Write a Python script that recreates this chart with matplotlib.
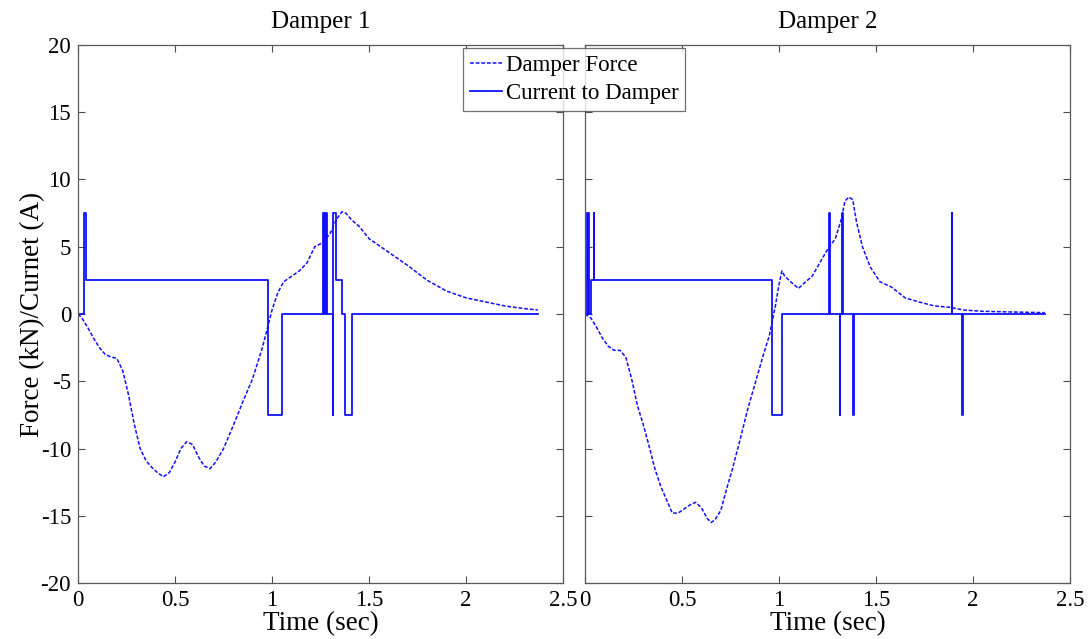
import matplotlib
matplotlib.use("Agg")
import matplotlib.pyplot as plt
from matplotlib.lines import Line2D

plt.rcParams['font.family'] = ['Liberation Serif', 'DejaVu Serif']
plt.rcParams['axes.unicode_minus'] = False

# Damper 1 force (kN)
t_force1 = [0, 0.02, 0.05, 0.08, 0.11, 0.14, 0.17, 0.2, 0.23, 0.26,
            0.29, 0.32, 0.35, 0.38, 0.41, 0.44, 0.47, 0.5, 0.53, 0.56,
            0.59, 0.62, 0.65, 0.68, 0.71, 0.75, 0.8, 0.85, 0.9, 0.95,
            1.0, 1.03, 1.06, 1.1, 1.14, 1.18, 1.22, 1.26, 1.3, 1.33,
            1.36, 1.38, 1.41, 1.45, 1.5, 1.55, 1.6, 1.7, 1.8, 1.9,
            2.0, 2.1, 2.2, 2.3, 2.37]
force1 = [0, -0.3, -1.0, -1.8, -2.5, -3.0, -3.2, -3.3, -4.2, -6.0,
          -8.2, -10.0, -10.9, -11.4, -11.8, -12.1, -11.8, -11.0, -10.0, -9.5,
          -9.7, -10.6, -11.3, -11.5, -11.0, -10.0, -8.3, -6.5, -4.8, -2.5,
          0.3, 1.6, 2.4, 2.8, 3.2, 3.8, 5.0, 5.3, 6.0, 7.0,
          7.6, 7.5, 7.0, 6.5, 5.6, 5.1, 4.6, 3.6, 2.5, 1.7,
          1.2, 0.9, 0.6, 0.4, 0.3]

# Damper 1 current (A), step changes
t_cur1 = [0, 0.03, 0.04, 0.98, 1.05, 1.263, 1.267, 1.270, 1.274, 1.277,
          1.281, 1.284, 1.312, 1.316, 1.330, 1.36, 1.375, 1.41, 2.37]
cur1 = [0, 7.5, 2.5, -7.5, 0, 7.5, 0, 7.5, 0, 7.5,
        0, 0, -7.5, 7.5, 2.5, 0, -7.5, 0, 0]

# Damper 2 force (kN)
t_force2 = [0, 0.03, 0.06, 0.09, 0.12, 0.15, 0.18, 0.21, 0.24, 0.27,
            0.3, 0.33, 0.36, 0.39, 0.42, 0.45, 0.48, 0.51, 0.54, 0.57,
            0.6, 0.63, 0.65, 0.67, 0.7, 0.73, 0.76, 0.8, 0.84, 0.88,
            0.92, 0.95, 0.98, 1.0, 1.015, 1.03, 1.06, 1.1, 1.13, 1.17,
            1.21, 1.25, 1.29, 1.32, 1.34, 1.36, 1.38, 1.4, 1.43, 1.47,
            1.52, 1.58, 1.65, 1.72, 1.8, 1.88, 1.95, 2.05, 2.2, 2.37]
force2 = [0, -0.3, -1.0, -1.8, -2.4, -2.7, -2.7, -3.2, -4.8, -6.8,
          -8.2, -9.8, -11.5, -12.8, -13.8, -14.8, -14.8, -14.5, -14.2, -14.0,
          -14.4, -15.2, -15.5, -15.3, -14.6, -13.0, -11.5, -9.3, -7.0, -5.0,
          -3.0, -1.6, 0.5, 2.2, 3.2, 2.8, 2.4, 1.9, 2.3, 2.8,
          3.8, 4.8, 5.6, 7.0, 8.4, 8.7, 8.5, 6.8, 5.0, 3.5,
          2.4, 2.0, 1.2, 0.9, 0.6, 0.5, 0.3, 0.2, 0.15, 0.1]

# Damper 2 current (A), step changes
t_cur2 = [0, 0.010, 0.013, 0.016, 0.020, 0.030, 0.045, 0.048, 0.964, 1.015,
          1.258, 1.262, 1.312, 1.316, 1.325, 1.329, 1.38, 1.384, 1.89, 1.894,
          1.943, 1.947, 2.37]
cur2 = [0, 7.5, 0, 7.5, 0, 2.5, 7.5, 2.5, -7.5, 0,
        7.5, 0, -7.5, 0, 7.5, 0, -7.5, 0, 7.5, 0,
        -7.5, 0, 0]

xticks = [0, 0.5, 1, 1.5, 2, 2.5]
yticks = [-20, -15, -10, -5, 0, 5, 10, 15, 20]
titles = ["Damper 1", "Damper 2"]

blue = '#1010ff'
fig = plt.figure(figsize=(10.9, 6.39), dpi=100)
ax1 = fig.add_axes([0.0716, 0.0876, 0.445, 0.842])
ax2 = fig.add_axes([0.5367, 0.0876, 0.445, 0.842])

data = [(t_force1, force1, t_cur1, cur1), (t_force2, force2, t_cur2, cur2)]
for ax, (tf, f, tc, c), title in zip([ax1, ax2], data, titles):
    ax.plot(tf, f, color=blue, lw=1.1, linestyle=(0, (2.5, 1.2)))
    ax.plot(tc, c, color=blue, lw=1.3, drawstyle='steps-post')
    ax.set_xlim(0, 2.5)
    ax.set_ylim(-20, 20)
    ax.set_xticks(xticks)
    ax.set_xticklabels([f"{v:g}" for v in xticks])
    ax.set_yticks(yticks)
    ax.tick_params(direction='in', top=True, right=True, labelsize=16.5,
                   length=5, width=0.8, color='0.3', pad=5)
    for s in ax.spines.values():
        s.set_color('0.35')
        s.set_linewidth(0.9)
    ax.set_title(title, fontsize=18, pad=12)
    ax.set_xlabel("Time (sec)", fontsize=19.5, labelpad=0)

ax1.set_ylabel("Force (kN)/Curnet (A)", fontsize=19.5, labelpad=-3)
ax2.tick_params(labelleft=False)

handles = [Line2D([], [], color=blue, lw=1.1, linestyle=(0, (2.5, 1.2))),
           Line2D([], [], color=blue, lw=1.3)]
leg = fig.legend(handles, ["Damper Force", "Current to Damper"],
                 loc='upper center', bbox_to_anchor=(0.527, 0.925),
                 fontsize=16.5, frameon=True, fancybox=False,
                 handlelength=1.4, handletextpad=0.15, borderpad=0.3,
                 labelspacing=0.3, borderaxespad=0)
leg.get_frame().set_edgecolor('0.3')
leg.get_frame().set_linewidth(0.9)

fig.savefig("out.png", dpi=100)
